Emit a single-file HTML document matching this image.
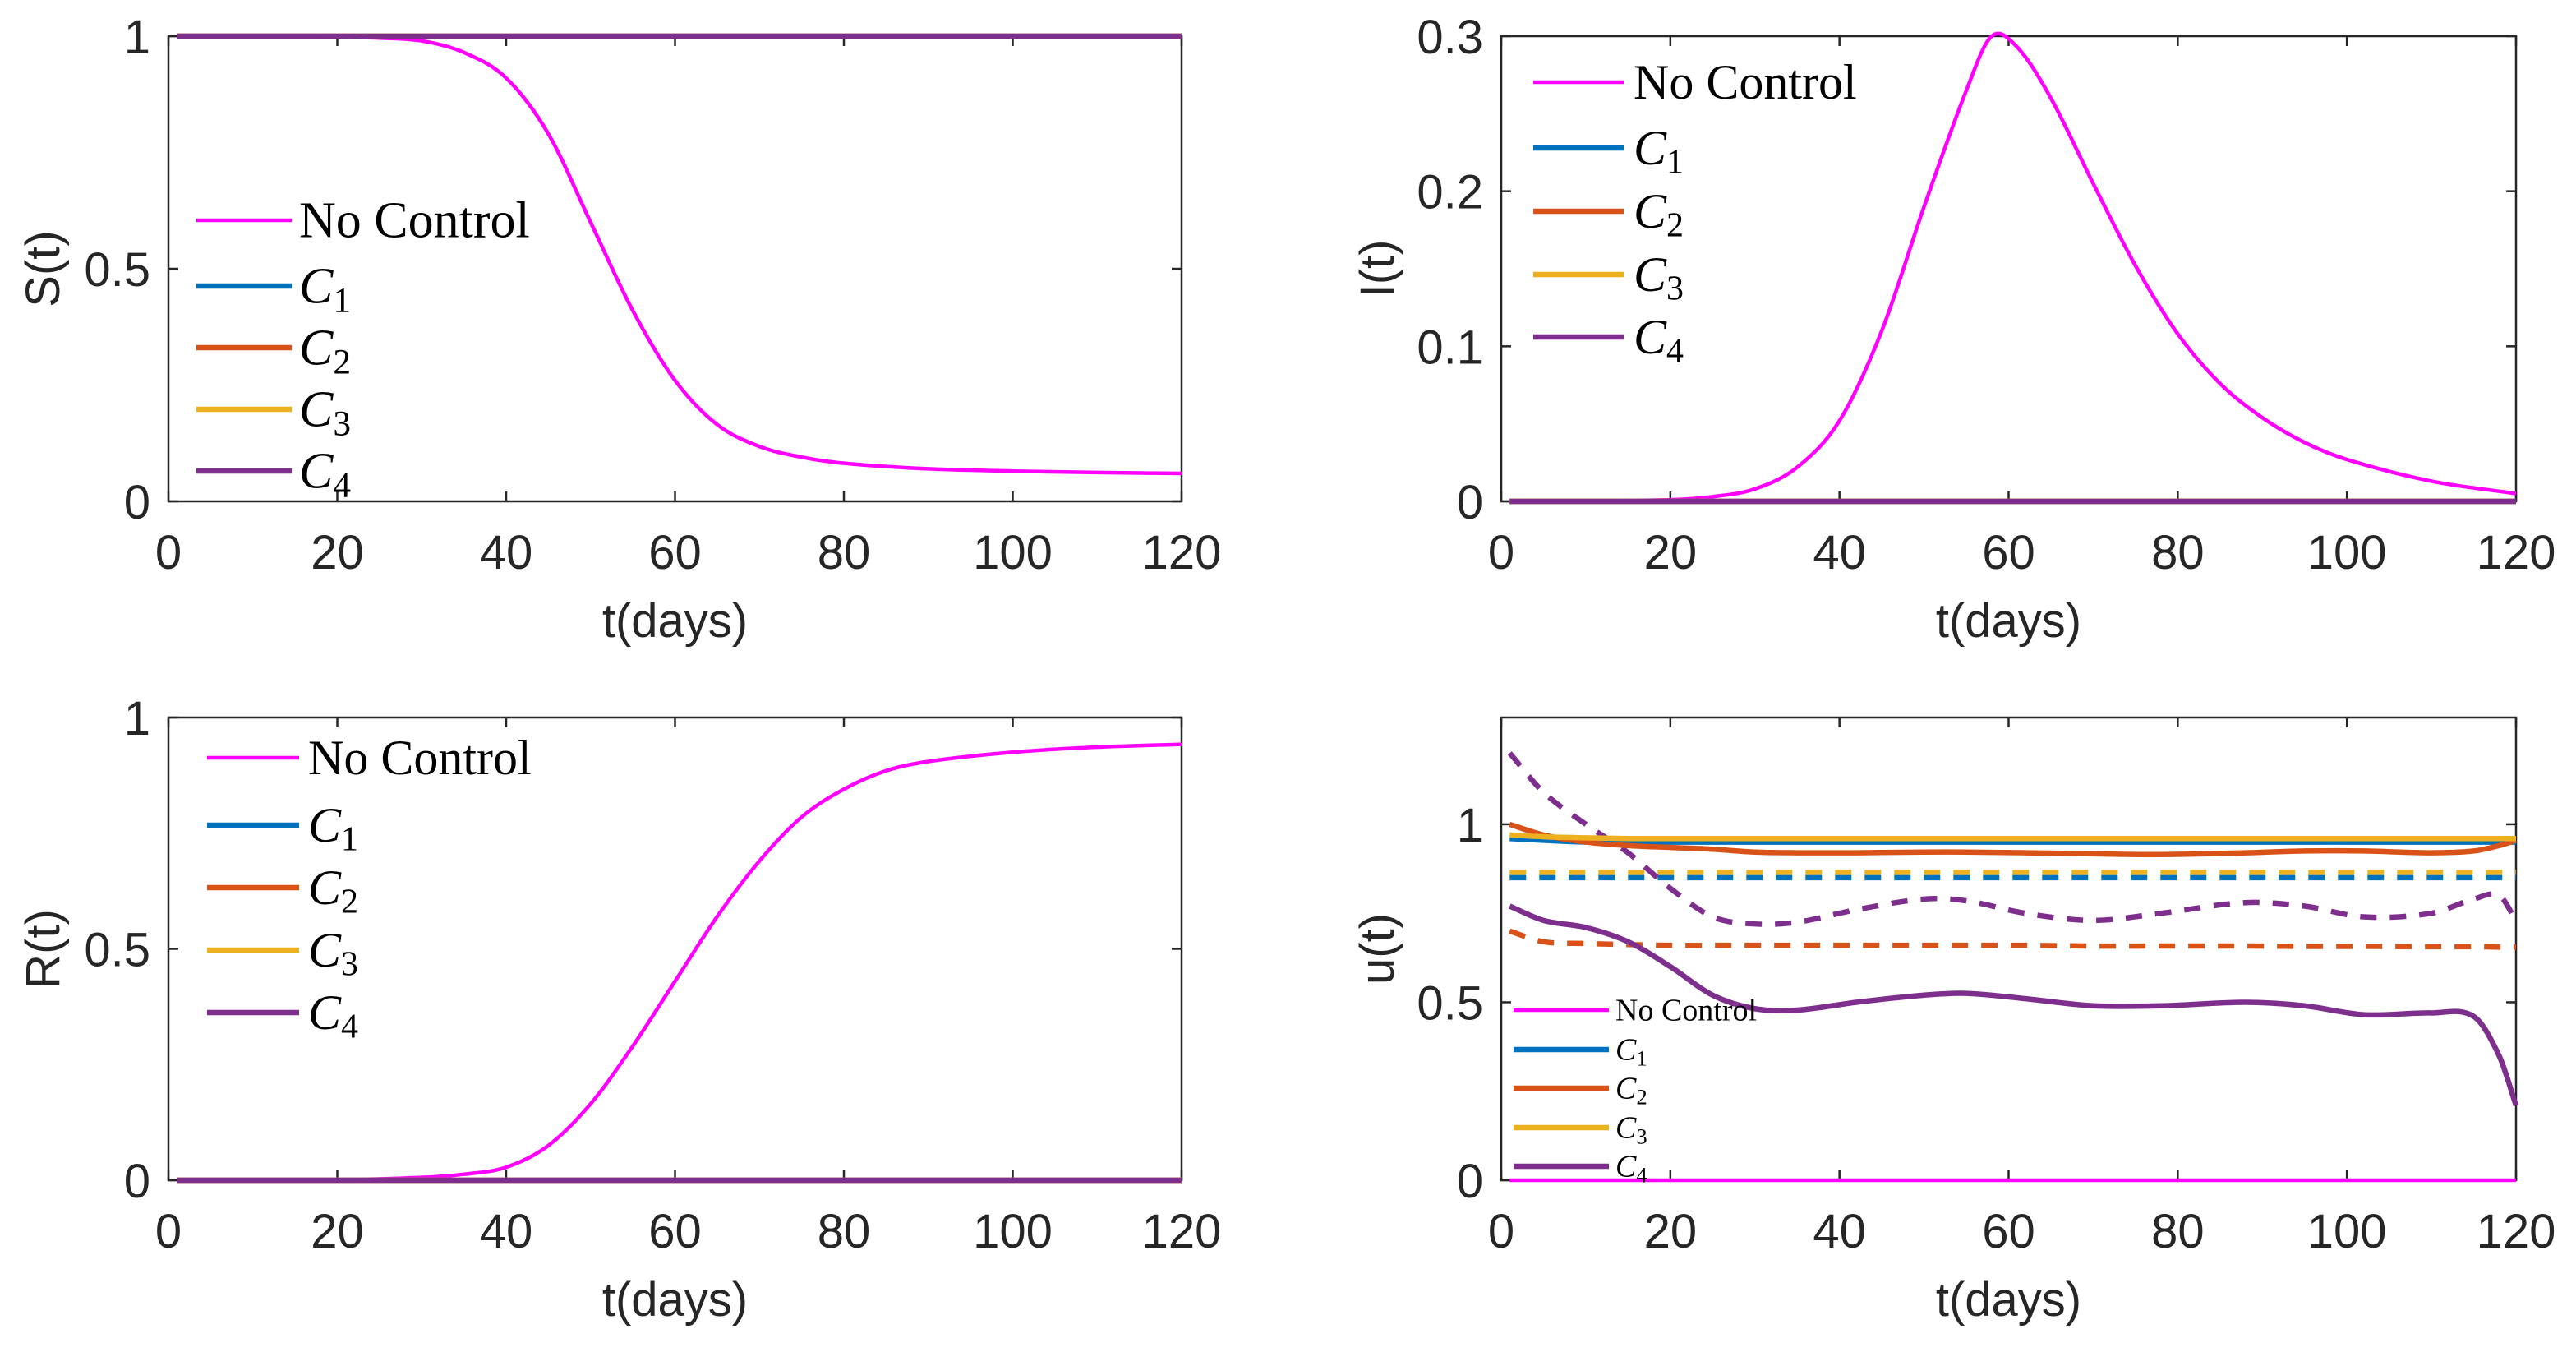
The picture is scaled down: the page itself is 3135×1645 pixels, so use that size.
<!DOCTYPE html>
<html><head><meta charset="utf-8">
<style>
html,body{margin:0;padding:0;background:#fff;}
svg{display:block;}
.tk{font-family:"Liberation Sans",sans-serif;font-size:58px;fill:#262626;}
.lg{font-family:"Liberation Serif",serif;fill:#000;}
</style></head>
<body>
<svg id="fig" width="3135" height="1645" viewBox="0 0 3135 1645" xmlns="http://www.w3.org/2000/svg"></svg>
<script>
// ---- data ----
const sT = [1,20,25,30,35,40,45,50,55,60,65,70,75,80,90,100,110,120];
const sNoCtrl = [1,0.998,0.996,0.99,0.965,0.91,0.79,0.6,0.41,0.26,0.165,0.118,0.095,0.082,0.07,0.065,0.062,0.06];
const iT = [1,20,25,30,35,40,45,50,55,58,61,65,70,75,80,85,90,95,100,110,120];
const iNoCtrl = [0,0.001,0.003,0.008,0.022,0.052,0.11,0.19,0.265,0.3,0.293,0.26,0.205,0.152,0.108,0.076,0.054,0.038,0.027,0.013,0.005];
const rT = [1,20,30,35,40,45,50,55,60,65,70,75,80,85,90,100,110,120];
const rNoCtrl = [0,0.001,0.006,0.013,0.028,0.075,0.165,0.29,0.43,0.57,0.69,0.785,0.845,0.885,0.905,0.925,0.936,0.942];
const ctrlT = [1,120];
const sCtrl = [1,1];
const iCtrl = [0,0];
const rCtrl = [0,0];
const uT = [1,5,10,15,20,25,30,35,42,50,55,62,70,78,88,95,102,110,115,118,120];
const uC1 = [0.96,0.955,0.95,0.95,0.95,0.95,0.95,0.95,0.95,0.95,0.95,0.95,0.95,0.95,0.95,0.95,0.95,0.95,0.95,0.95,0.95];
const uC2 = [1.0,0.97,0.95,0.94,0.935,0.93,0.922,0.92,0.92,0.922,0.922,0.92,0.917,0.915,0.92,0.925,0.925,0.92,0.925,0.94,0.955];
const uC3 = [0.97,0.965,0.962,0.96,0.96,0.96,0.96,0.96,0.96,0.96,0.96,0.96,0.96,0.96,0.96,0.96,0.96,0.96,0.96,0.96,0.96];
const uC4 = [0.77,0.73,0.71,0.67,0.6,0.52,0.482,0.478,0.5,0.52,0.525,0.51,0.49,0.49,0.5,0.49,0.465,0.47,0.46,0.35,0.21];
const uC1d = [0.85,0.85,0.85,0.85,0.85,0.85,0.85,0.85,0.85,0.85,0.85,0.85,0.85,0.85,0.85,0.85,0.85,0.85,0.85,0.85,0.85];
const uC2d = [0.70,0.67,0.665,0.662,0.66,0.66,0.66,0.66,0.66,0.66,0.66,0.66,0.658,0.658,0.658,0.657,0.657,0.656,0.656,0.655,0.655];
const uC3d = [0.865,0.865,0.865,0.865,0.865,0.865,0.865,0.865,0.865,0.865,0.865,0.865,0.865,0.865,0.865,0.865,0.865,0.865,0.865,0.865,0.865];
const uC4d = [1.2,1.09,1.0,0.92,0.82,0.74,0.72,0.725,0.76,0.79,0.785,0.75,0.73,0.75,0.78,0.77,0.74,0.75,0.79,0.8,0.73];
const uNone = [0,0];
const xTicks = [0,20,40,60,80,100,120];
const yTicksA = [0,0.5,1];
const yTicksI = [0,0.1,0.2,0.3];
const yTickLabelsA = ["0","0.5","1"];
const yTickLabelsI = ["0","0.1","0.2","0.3"];
const legendLabels = ["No Control","1","2","3","4"];

const COL = {nc:"#ff00ff",c1:"#0072bd",c2:"#d95319",c3:"#edb120",c4:"#7e2f8e"};
const NS="http://www.w3.org/2000/svg";
const svg=document.getElementById('fig');
function mk(tag,attrs,parent){const e=document.createElementNS(NS,tag);for(const k in attrs)e.setAttribute(k,attrs[k]);(parent||svg).appendChild(e);return e;}

function smoothPath(pts){
  const n=pts.length;
  if(n===2)return `M${pts[0][0]},${pts[0][1]} L${pts[1][0]},${pts[1][1]}`;
  const m=[];
  for(let i=0;i<n;i++){
    if(i===0)m.push((pts[1][1]-pts[0][1])/(pts[1][0]-pts[0][0]));
    else if(i===n-1)m.push((pts[n-1][1]-pts[n-2][1])/(pts[n-1][0]-pts[n-2][0]));
    else m.push((pts[i+1][1]-pts[i-1][1])/(pts[i+1][0]-pts[i-1][0]));
  }
  let d=`M${pts[0][0]},${pts[0][1]}`;
  for(let i=0;i<n-1;i++){
    const h=pts[i+1][0]-pts[i][0];
    d+=` C${pts[i][0]+h/3},${pts[i][1]+m[i]*h/3} ${pts[i+1][0]-h/3},${pts[i+1][1]-m[i+1]*h/3} ${pts[i+1][0]},${pts[i+1][1]}`;
  }
  return d;
}

function panel(cfg){
  const g=mk('g',{});
  
  
  const {x0,x1,y0,y1,ymax}=cfg;
  const sx=v=>x0+(v/120)*(x1-x0);
  const sy=v=>y1-(v/ymax)*(y1-y0);
  const box=mk('rect',{x:x0,y:y0,width:x1-x0,height:y1-y0,fill:'none',stroke:'#262626','stroke-width':2.5},g);
  
  
  xTicks.forEach(t=>{
    const X=sx(t);
    mk('line',{x1:X,x2:X,y1:y1,y2:y1-12,stroke:'#262626','stroke-width':2.5},g);
    mk('line',{x1:X,x2:X,y1:y0,y2:y0+12,stroke:'#262626','stroke-width':2.5},g);
    const tx=mk('text',{x:X,y:y1+82,'text-anchor':'middle',class:'tk'},g);
    tx.textContent=t;
    
    
  });
  cfg.yt.forEach((t,i)=>{
    const Y=sy(t);
    mk('line',{x1:x0,x2:x0+12,y1:Y,y2:Y,stroke:'#262626','stroke-width':2.5},g);
    mk('line',{x1:x1,x2:x1-12,y1:Y,y2:Y,stroke:'#262626','stroke-width':2.5},g);
    const tx=mk('text',{x:x0-22,y:Y+21,'text-anchor':'end',class:'tk'},g);
    tx.textContent=cfg.ytl[i];
    
    
  });
  const sg=mk('g',{},g);
  
  
  cfg.series.forEach(s=>{
    const pts=s.t.map((t,i)=>[sx(t),sy(s.v[i])]);
    const p=mk('path',{d:smoothPath(pts),fill:'none',stroke:s.c,'stroke-width':s.w,'stroke-linejoin':'round'},sg);
    if(s.dash)p.setAttribute('stroke-dasharray',s.dash);
    
    
  });
  const xl=mk('text',{x:(x0+x1)/2,y:y1+165,'text-anchor':'middle',class:'tk'},g);
  xl.textContent='t(days)';
  
  
  const yl=mk('text',{x:0,y:0,'text-anchor':'middle',class:'tk',transform:`translate(${cfg.ylx},${(y0+y1)/2}) rotate(-90)`},g);
  yl.textContent=cfg.ylab;
  
  
  const L=cfg.leg;
  const lg=mk('g',{},g);
  
  
  const cols=[COL.nc,COL.c1,COL.c2,COL.c3,COL.c4];
  legendLabels.forEach((lab,i)=>{
    const Y=L.ys[i];
    const e=mk('g',{},lg);
    
    
    mk('line',{x1:L.lx0,x2:L.lx1,y1:Y,y2:Y,stroke:cols[i],'stroke-width':i==0?4.5:6.5},e);
    const tx=mk('text',{x:L.tx,y:Y+L.fs*0.33,class:'lg','font-size':L.fs},e);
    if(i==0){tx.textContent=lab;}
    else{
      const a=mk('tspan',{'font-style':'italic'},tx);a.textContent='C';
      const b=mk('tspan',{'font-size':L.fs*0.7,dy:L.fs*0.18},tx);b.textContent=lab;
    }
  });
}

const ctrlSeries=(v,w)=>[
  {t:ctrlT,v:v,c:COL.c1,w:w,n:'c1-line'},
  {t:ctrlT,v:v,c:COL.c2,w:w,n:'c2-line'},
  {t:ctrlT,v:v,c:COL.c3,w:w,n:'c3-line'},
  {t:ctrlT,v:v,c:COL.c4,w:w,n:'c4-line'}];

panel({name:'panel-s',x0:205,x1:1438,y0:44,y1:610,ymax:1,yt:yTicksA,ytl:yTickLabelsA,ylab:'S(t)',ylx:72,
  series:[{t:sT,v:sNoCtrl,c:COL.nc,w:4.5,n:'no-control-line'}].concat(ctrlSeries(sCtrl,6.5)),
  leg:{lx0:239,lx1:355,tx:364,fs:62,ys:[268,348,423,498,573]}});
panel({name:'panel-i',x0:1827,x1:3062,y0:44,y1:610,ymax:0.3,yt:yTicksI,ytl:yTickLabelsI,ylab:'I(t)',ylx:1696,
  series:[{t:iT,v:iNoCtrl,c:COL.nc,w:4.5,n:'no-control-line'}].concat(ctrlSeries(iCtrl,6.5)),
  leg:{lx0:1866,lx1:1976,tx:1988,fs:60,ys:[100,180,257,334,410]}});
panel({name:'panel-r',x0:205,x1:1438,y0:873,y1:1436,ymax:1,yt:yTicksA,ytl:yTickLabelsA,ylab:'R(t)',ylx:72,
  series:[{t:rT,v:rNoCtrl,c:COL.nc,w:4.5,n:'no-control-line'}].concat(ctrlSeries(rCtrl,6.5)),
  leg:{lx0:252,lx1:364,tx:375,fs:60,ys:[922,1004,1080,1156,1232]}});
panel({name:'panel-u',x0:1827,x1:3062,y0:873,y1:1436,ymax:1.3,yt:yTicksA,ytl:yTickLabelsA,ylab:'u(t)',ylx:1696,
  series:[
    {t:uT,v:uC1d,c:COL.c1,w:6.5,dash:'20 16',n:'c1-dashed'},
    {t:uT,v:uC3d,c:COL.c3,w:6.5,dash:'20 16',n:'c3-dashed'},
    {t:uT,v:uC2d,c:COL.c2,w:6.5,dash:'20 16',n:'c2-dashed'},
    {t:uT,v:uC4d,c:COL.c4,w:6.5,dash:'20 16',n:'c4-dashed'},
    {t:uT,v:uC1,c:COL.c1,w:6.5,n:'c1-line'},
    {t:uT,v:uC2,c:COL.c2,w:6.5,n:'c2-line'},
    {t:uT,v:uC3,c:COL.c3,w:6.5,n:'c3-line'},
    {t:uT,v:uC4,c:COL.c4,w:6.5,n:'c4-line'},
    {t:ctrlT,v:uNone,c:COL.nc,w:4.5,n:'no-control-line'}],
  leg:{lx0:1842,lx1:1958,tx:1966,fs:38,ys:[1229,1277,1324,1372,1419]}});
</script>
</body></html>
